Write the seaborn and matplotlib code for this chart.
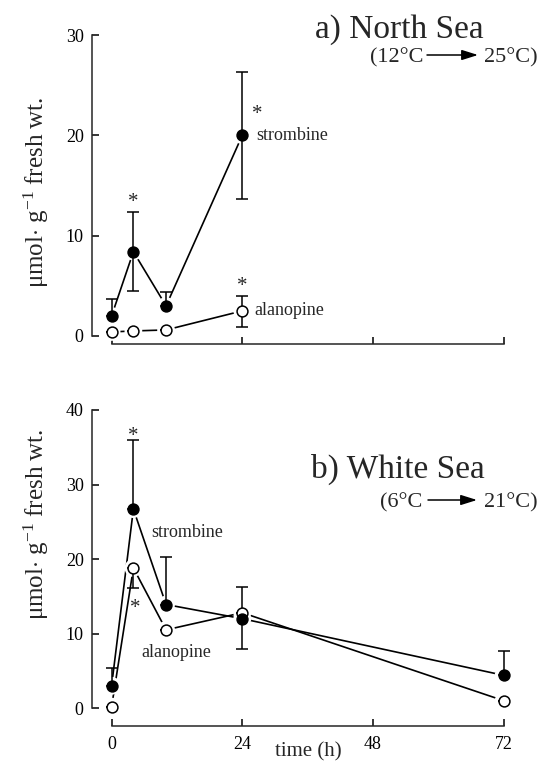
import matplotlib
matplotlib.use("Agg")
import matplotlib.pyplot as plt
import pandas as pd
import seaborn as sns

# a) North Sea (12 °C -> 25 °C)
time_a = [0, 4, 10, 24]
strombine_a = [2.0, 8.4, 3.0, 20.0]
strombine_a_up = [1.7, 4.0, 1.4, 6.3]
strombine_a_down = [0.0, 3.9, 0.0, 6.3]
alanopine_a = [0.4, 0.5, 0.6, 2.5]
alanopine_a_up = [0.0, 0.0, 0.0, 1.5]
alanopine_a_down = [0.0, 0.0, 0.0, 1.6]
stars_a = [(4, 13.9), (26.7, 22.7), (24, 5.5)]

# b) White Sea (6 °C -> 21 °C)
time_b = [0, 4, 10, 24, 72]
strombine_b = [3.0, 26.7, 13.9, 12.0, 4.4]
strombine_b_up = [2.4, 9.3, 6.4, 4.2, 3.2]
strombine_b_down = [0.0, 0.0, 0.0, 4.1, 0.0]
alanopine_b = [0.2, 18.8, 10.5, 12.8, 1.0]
alanopine_b_up = [0.0, 0.0, 0.0, 0.0, 0.0]
alanopine_b_down = [0.0, 2.7, 0.0, 0.0, 0.0]
stars_b = [(4, 37.3), (4.3, 14.1)]

x_ticks = [0, 24, 48, 72]
y_ticks_a = [0, 10, 20, 30]
y_ticks_b = [0, 10, 20, 30, 40]

sns.set_style("ticks")
plt.rcParams["font.family"] = ["Liberation Serif", "DejaVu Serif"]
plt.rcParams["mathtext.fontset"] = "custom"
plt.rcParams["mathtext.rm"] = "Liberation Serif"
plt.rcParams["mathtext.it"] = "Liberation Serif:italic"

W, H = 539, 773
fig = plt.figure(figsize=(W / 100, H / 100), dpi=100)
ax_a = fig.add_axes([0.1707, 0.555, 0.7839, 0.3997])
ax_b = fig.add_axes([0.1707, 0.0608, 0.7839, 0.4088])

MS = 7.8      # marker diameter (pt)
HALO = 12.8   # white ring that keeps lines off the markers


def series(ax, t, y, up, down, filled, z):
    df = pd.DataFrame({"time": t, "value": y})
    sns.lineplot(data=df, x="time", y="value", ax=ax, color="black",
                 lw=1.2, sort=False, zorder=1, estimator=None)
    sns.scatterplot(data=df, x="time", y="value", ax=ax, s=HALO ** 2,
                    color="white", edgecolor="none", zorder=2, clip_on=False)
    ax.errorbar(t, y, yerr=[down, up], fmt="none", ecolor="black",
                elinewidth=1.1, capsize=4, capthick=1.1, zorder=3,
                clip_on=False)
    sns.scatterplot(data=df, x="time", y="value", ax=ax, s=MS ** 2,
                    color="black" if filled else "white",
                    edgecolor="black", linewidth=1.1, zorder=z, clip_on=False)


def frame(ax, yticks, ymin, show_xlabels):
    ax.set_xlim(-3.6, 74)
    ax.set_ylim(ymin, yticks[-1])
    sns.despine(ax=ax)
    ax.spines["left"].set_bounds(0, yticks[-1])
    ax.spines["bottom"].set_bounds(0, 72)
    for sp in ("left", "bottom"):
        ax.spines[sp].set_linewidth(1.1)
    ax.set_xticks(x_ticks)
    ax.set_yticks(yticks)
    ax.tick_params(direction="in", length=5, width=1.1, labelsize=13,
                   colors="black")
    ax.tick_params(axis="x", pad=7, labelbottom=show_xlabels)
    ax.tick_params(axis="y", pad=6)
    ax.set_xlabel("")
    ax.set_ylabel("")


def stars(ax, pts):
    for x, y in pts:
        ax.annotate("*", (x, y), xytext=(0, -7.5), textcoords="offset points",
                    ha="center", va="baseline", fontsize=15,
                    annotation_clip=False)


ylabel = r"$\mathrm{\mu}$mol$\cdot$ g$^{-1}$ fresh wt."

# panel a
series(ax_a, time_a, alanopine_a, alanopine_a_up, alanopine_a_down, False, 4)
series(ax_a, time_a, strombine_a, strombine_a_up, strombine_a_down, True, 5)
frame(ax_a, y_ticks_a, -0.8, False)
stars(ax_a, stars_a)
ax_a.text(26.6, 20.0, "strombine", fontsize=13, ha="left", va="center")
ax_a.text(26.2, 2.5, "alanopine", fontsize=13, ha="left", va="center")
ax_a.set_ylabel(ylabel, fontsize=18)
ax_a.yaxis.set_label_coords(-0.098, 0.49)

# panel b
series(ax_b, time_b, alanopine_b, alanopine_b_up, alanopine_b_down, False, 4)
series(ax_b, time_b, strombine_b, strombine_b_up, strombine_b_down, True, 5)
frame(ax_b, y_ticks_b, -2.4, True)
stars(ax_b, stars_b)
ax_b.text(13.9, 23.5, "strombine", fontsize=13, ha="center", va="center")
ax_b.text(11.9, 7.5, "alanopine", fontsize=13, ha="center", va="center")
ax_b.set_ylabel(ylabel, fontsize=18)
ax_b.yaxis.set_label_coords(-0.098, 0.64)
ax_b.set_xlabel("time (h)", fontsize=15)
ax_b.xaxis.set_label_coords(0.511, -0.052)


def heading(ax, title, cx, base, left_txt, right_txt, tx0, ar0, ar1, base2):
    fig.text(cx / W, 1 - base / H, title, fontsize=24, ha="center",
             va="baseline")
    fig.text(tx0 / W, 1 - base2 / H, left_txt, fontsize=16, ha="left",
             va="baseline")
    fig.text(538 / W, 1 - base2 / H, right_txt, fontsize=16, ha="right",
             va="baseline")
    ya = 1 - (base2 - 7) / H
    arrow = ax.annotate("", xy=(ar1 / W, ya), xytext=(ar0 / W, ya),
                        xycoords="figure fraction",
                        textcoords="figure fraction",
                        arrowprops=dict(arrowstyle="-|>,head_length=0.7,head_width=0.22",
                                        color="black", lw=1.1,
                                        mutation_scale=14,
                                        shrinkA=0, shrinkB=0),
                        annotation_clip=False)
    arrow.arrow_patch.set_clip_on(False)


heading(ax_a, "a) North Sea", 399.5, 38, "(12°C", "25°C)", 370, 427, 478, 62)
heading(ax_b, "b) White Sea", 398, 478, "(6°C", "21°C)", 380, 428, 477, 507)

fig.savefig("out.png", dpi=100)
